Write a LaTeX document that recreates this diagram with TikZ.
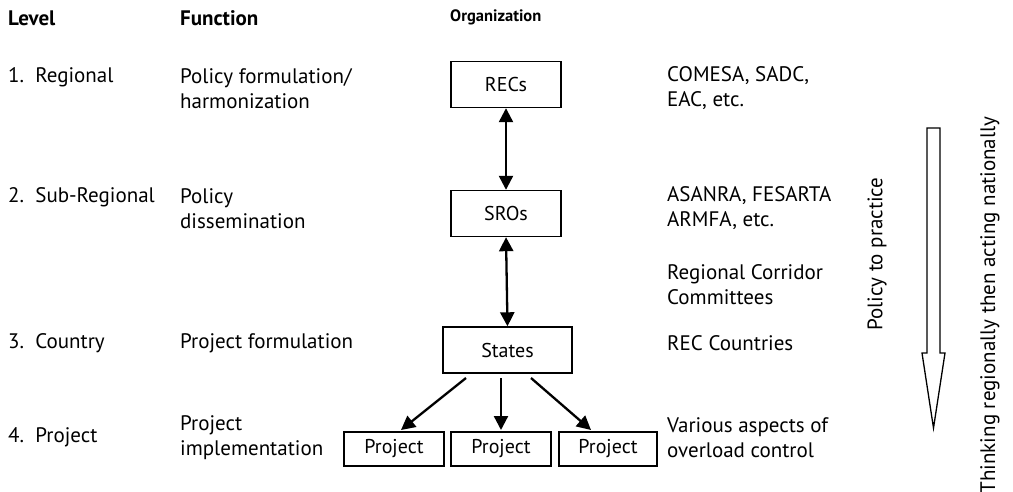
\documentclass[tikz,border=0pt]{standalone}
\usepackage{fontspec}
\setmainfont{PT Sans}
\usetikzlibrary{arrows.meta}
\begin{document}
\begin{tikzpicture}[x=1pt,y=-1pt,
  txt/.style={anchor=west,align=left,inner sep=0pt,font=\fontsize{21}{25}\selectfont},
  hdr/.style={anchor=west,inner sep=0pt,font=\fontsize{21}{25}\selectfont\bfseries},
  box/.style={draw,line width=1.4pt,inner sep=0pt,font=\fontsize{20}{24}\selectfont},
  vtxt/.style={rotate=90,inner sep=0pt,font=\fontsize{21}{25}\selectfont},
  conn/.style={line width=2.3pt,-{Triangle[length=14pt,width=14pt]}},
  biconn/.style={line width=2.3pt,{Triangle[length=14pt,width=14pt]}-{Triangle[length=14pt,width=14pt]}}
]
\useasboundingbox (0,0) rectangle (1013,492);
% headers
\node[hdr] (hlevel) at (8,18) {Level};
\node[hdr] (hfunc) at (180,18) {Function};
\node[hdr,font=\fontsize{16.5}{20}\selectfont\bfseries] (horg) at (450,17) {Organization};
% levels
\node[txt] (l1) at (8,77) {1.\ \ Regional};
\node[txt] (l2) at (8,197) {2.\ \ Sub-Regional};
\node[txt] (l3) at (8,343) {3.\ \ Country};
\node[txt] (l4) at (8,437) {4.\ \ Project};
% functions
\node[txt] (f1) at (180,88.5) {Policy formulation/\\harmonization};
\node[txt] (f2) at (180,208.5) {Policy\\dissemination};
\node[txt] (f3) at (180,343) {Project formulation};
\node[txt] (f4) at (180,437.5) {Project\\implementation};
% organization boxes
\node[box,minimum width=110pt,minimum height=46pt] (recs) at (506,84.5) {RECs};
\node[box,minimum width=110pt,minimum height=46pt] (sros) at (506,213.5) {SROs};
\node[box,minimum width=129pt,minimum height=46pt] (states) at (507.5,350) {States};
\node[box,minimum width=100pt,minimum height=34pt] (p1) at (394,449) {Project};
\node[box,minimum width=100pt,minimum height=34pt] (p2) at (501,449) {Project};
\node[box,minimum width=98pt,minimum height=34pt] (p3) at (608,449) {Project};
% right column
\node[txt] (o1) at (667,88.5) {COMESA, SADC,\\EAC, etc.};
\node[txt] (o2) at (667,208.5) {ASANRA, FESARTA\\ARMFA, etc.};
\node[txt] (o3) at (667,284.5) {Regional Corridor\\Committees};
\node[txt] (o4) at (667,343) {REC Countries};
\node[txt] (o5) at (667,437.5) {Various aspects of\\overload control};
% connectors
\draw[biconn] (recs.south) -- (sros.north);
\draw[biconn] (sros.south) -- (states.north);
\coordinate (s1) at (466,378);
\coordinate (s2) at (501,378);
\coordinate (s3) at (531,378);
\coordinate (t1) at (401,430);
\coordinate (t2) at (501,430);
\coordinate (t3) at (591,430);
\draw[conn] (s1) -- (t1);
\draw[conn] (s2) -- (t2);
\draw[conn] (s3) -- (t3);
% hollow arrow
\draw[line width=1.3pt,fill=white] (927,128) -- (940,128) -- (940,353) -- (945,353)
  -- (933.5,428) -- (922,353) -- (927,353) -- cycle;
\node[vtxt] (ptp) at (877,254) {Policy to practice};
\node[vtxt] (think) at (990,305) {Thinking regionally then acting nationally};
\end{tikzpicture}
\end{document}
